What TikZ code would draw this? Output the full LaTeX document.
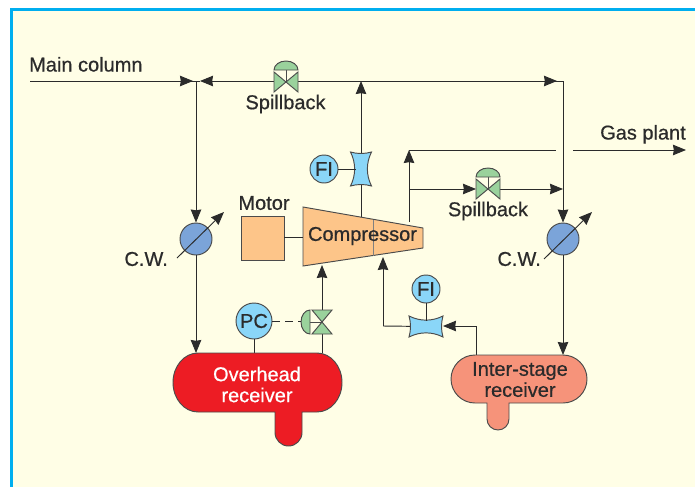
\documentclass[tikz,border=0pt]{standalone}
\usepackage{fontspec}
\setmainfont{Liberation Sans}
\newfontfamily\labelfont[FakeBold=0.6]{Liberation Sans}
\usetikzlibrary{arrows.meta}
\definecolor{panelfill}{HTML}{FFFEE6}
\definecolor{panelrim}{HTML}{00AEEF}
\definecolor{inkdark}{HTML}{2B2B2B}
\definecolor{valvegreen}{HTML}{9AD29C}
\definecolor{gaugeblue}{HTML}{8AD6F8}
\definecolor{coolerblue}{HTML}{7BA4D9}
\definecolor{machineorange}{HTML}{FDC589}
\definecolor{drumred}{HTML}{ED1C24}
\definecolor{drumsalmon}{HTML}{F6937A}
\tikzset{>={Stealth[inset=0.8pt,length=13pt,width=10.5pt]}}
\tikzset{
	pipe/.style={draw=inkdark, line width=0.95pt},
	outline/.style={draw=inkdark!85, line width=0.95pt},
	label/.style={text=inkdark, font=\labelfont\fontsize{20}{21}\selectfont, inner sep=0pt, align=center},
	gauge/.style={circle, outline, fill=gaugeblue, inner sep=0pt, text=inkdark, font=\labelfont\fontsize{20}{21}\selectfont},
	cooler/.style={circle, outline, fill=coolerblue, minimum size=32pt, inner sep=0pt},
	valvepic/.pic={
		\draw[outline, fill=valvegreen] (-12,-10) -- (12,10) -- (12,-10) -- (-12,10) -- cycle;
		\draw[outline] (0,0) -- (0,-12);
		\draw[outline, fill=valvegreen] (-12,-12) arc[start angle=180, end angle=0, x radius=12pt, y radius=9pt] -- cycle;
	},
	venturipic/.pic={
		\draw[outline, fill=gaugeblue] (-17,-10.5) .. controls (-6,-5) and (6,-5) .. (17,-10.5)
			.. controls (15,-4) and (15,4) .. (17,10.5)
			.. controls (6,5) and (-6,5) .. (-17,10.5)
			.. controls (-15,4) and (-15,-4) .. (-17,-10.5) -- cycle;
	},
}

\begin{document}
\begin{tikzpicture}[x=1pt, y=-1pt]
	\useasboundingbox (0,0) rectangle (695,487);

	% Panel
	\fill[white] (0,0) rectangle (695,487);
	\fill[panelrim] (10,8) rectangle (695,487);
	\fill[panelfill] (13,11) rectangle (695,487);

	% Junctions
	\coordinate (mainstart) at (30,81);
	\coordinate (mainjoin) at (196,81);
	\coordinate (mainin) at (193,81);
	\coordinate (backin) at (200,81);
	\coordinate (topvalve) at (286,82);
	\coordinate (disc) at (361,81);
	\coordinate (corner) at (563,81);
	\coordinate (cornerin) at (557,81);
	\coordinate (topexit) at (361,217);
	\coordinate (midexit) at (409,222);
	\coordinate (midup) at (409,150);
	\coordinate (gasgap) at (556,150);
	\coordinate (gasstart) at (573,150);
	\coordinate (gasend) at (686,150);
	\coordinate (midtee) at (409,189);
	\coordinate (sidevalve) at (488,189);
	\coordinate (sidein) at (476,189);
	\coordinate (sidejoin) at (563,189);
	\coordinate (lowvalve) at (322,322);
	\coordinate (suction) at (322,265);
	\coordinate (drumtap) at (322,353);
	\coordinate (pctap) at (254,353);
	\coordinate (drumfeed) at (196,353);
	\coordinate (stagein) at (383,257);
	\coordinate (stagecorner) at (383,326);
	\coordinate (recycle) at (476,326);
	\coordinate (recycletop) at (476,355);
	\coordinate (stagefeed) at (563,355);
	\coordinate (leftdiagA) at (177,258);
	\coordinate (leftdiagB) at (224,212);
	\coordinate (rightdiagA) at (544,259);
	\coordinate (rightdiagB) at (592,212);

	% Main header
	\draw[pipe] (mainstart) -- (mainjoin);
	\draw[pipe, ->] (mainstart) -- (mainin);
	\draw[pipe, ->] (disc) -- (backin);
	\draw[pipe] (disc) -- (corner);
	\draw[pipe, ->] (disc) -- (cornerin);
	\draw[pipe] (backin) -- (mainjoin);

	% Compressor lines
	\draw[pipe, ->] (topexit) -- (disc);
	\draw[pipe, ->] (midexit) -- (midup);
	\draw[pipe] (midup) -- (gasgap);
	\draw[pipe, ->] (gasstart) -- (gasend);
	\draw[pipe, ->] (midtee) -- (sidein);
	\draw[pipe, ->] (sidevalve) -- (sidejoin);

	% Drawn over the lines
	\node[cooler] (coolerleft) at (196,239) {};
	\node[cooler] (coolerright) at (563,239) {};
	\draw[pipe, ->] (mainjoin) -- (coolerleft);
	\draw[pipe, ->] (corner) -- (coolerright);
	\draw[pipe, ->] (coolerleft) -- (drumfeed);
	\draw[pipe, ->] (coolerright) -- (stagefeed);
	\draw[pipe, ->] (leftdiagA) -- (leftdiagB);
	\draw[pipe, ->] (rightdiagA) -- (rightdiagB);

	% Motor and compressor
	\node[rectangle, outline, fill=machineorange, minimum width=43pt, minimum height=44pt, inner sep=0pt] (motor) at (262.5,238) {};
	\draw[outline, fill=machineorange] (303,207) -- (423,228) -- (423,248) -- (303,266) -- cycle;
	\draw[draw=inkdark!60, line width=0.7pt] (373,219.5) -- (373,255.5);
	\node[label] (compressor) at (362.5,236) {Compressor};
	\coordinate (shaft) at (303,237);
	\draw[pipe] (motor.east |- shaft) -- (shaft);

	% Valves
	\pic at (topvalve) {valvepic};
	\pic at (sidevalve) {valvepic};
	\draw[pipe] (drumtap) -- (lowvalve);
	\draw[pipe, ->] (lowvalve) -- (suction);
	\pic[rotate=90] at (lowvalve) {valvepic};

	% Instruments
	\coordinate (ventone) at (361,169);
	\coordinate (venttwo) at (426,326.5);
	\draw[pipe] (stagecorner) -- (venttwo);
	\draw[pipe, ->] (stagecorner) -- (stagein);
	\draw[pipe] (recycletop) -- (recycle);
	\pic[rotate=90] at (ventone) {venturipic};
	\pic at (venttwo) {venturipic};
	\coordinate (recyclein) at (443,326);
	\draw[pipe, ->] (recycle) -- (recyclein);
	\node[gauge, minimum size=28pt] (fione) at (324,169) {FI};
	\node[gauge, minimum size=28pt] (fitwo) at (426,289) {FI};
	\node[gauge, minimum size=36pt] (pc) at (254,321) {PC};
	\coordinate (venttwotop) at (426,321);
	\coordinate (ventoneleft) at (356,169);
	\coordinate (dampedge) at (301,321);
	\draw[pipe] (fione) -- (ventoneleft);
	\draw[pipe] (fitwo) -- (venttwotop);
	\draw[pipe] (pc) -- (pctap);
	\draw[pipe, dash pattern=on 8pt off 5pt] (pc) -- (dampedge);

	% Receivers
	\draw[outline, fill=drumred] (198,353) -- (317,353)
		arc[start angle=90, end angle=0, x radius=25pt, y radius=29.5pt]
		arc[start angle=0, end angle=-90, x radius=25pt, y radius=29.5pt]
		-- (302,412) -- (302,432.5)
		arc[start angle=0, end angle=-180, radius=13.5pt]
		-- (275,412) -- (198,412)
		arc[start angle=-90, end angle=-180, x radius=25pt, y radius=29.5pt]
		arc[start angle=180, end angle=90, x radius=25pt, y radius=29.5pt] -- cycle;
	\node[label, text=white] (overhead) at (257,384.5) {Overhead\\[0pt]receiver};
	\draw[outline, fill=drumsalmon] (475,355) -- (563,355)
		arc[start angle=90, end angle=0, x radius=24pt, y radius=24pt]
		arc[start angle=0, end angle=-90, x radius=24pt, y radius=24pt]
		-- (509,403) -- (509,419)
		arc[start angle=0, end angle=-180, radius=11pt]
		-- (487,403) -- (475,403)
		arc[start angle=-90, end angle=-180, x radius=24pt, y radius=24pt]
		arc[start angle=180, end angle=90, x radius=24pt, y radius=24pt] -- cycle;
	\node[label] (interstage) at (520,379.5) {Inter-stage\\[0pt]receiver};

	% Labels
	\node[label, anchor=base west] (maincol) at (29,71.5) {Main column};
	\node[label] (spillone) at (285.5,104) {Spillback};
	\node[label] (spilltwo) at (488,211) {Spillback};
	\node[label] (motorlabel) at (264,203) {Motor};
	\node[label, anchor=east] (cwleft) at (168,259) {C.W.};
	\node[label, anchor=east] (cwright) at (541,259) {C.W.};
	\node[label, anchor=base east] (gasplant) at (686,139.5) {Gas plant};
\end{tikzpicture}
\end{document}
